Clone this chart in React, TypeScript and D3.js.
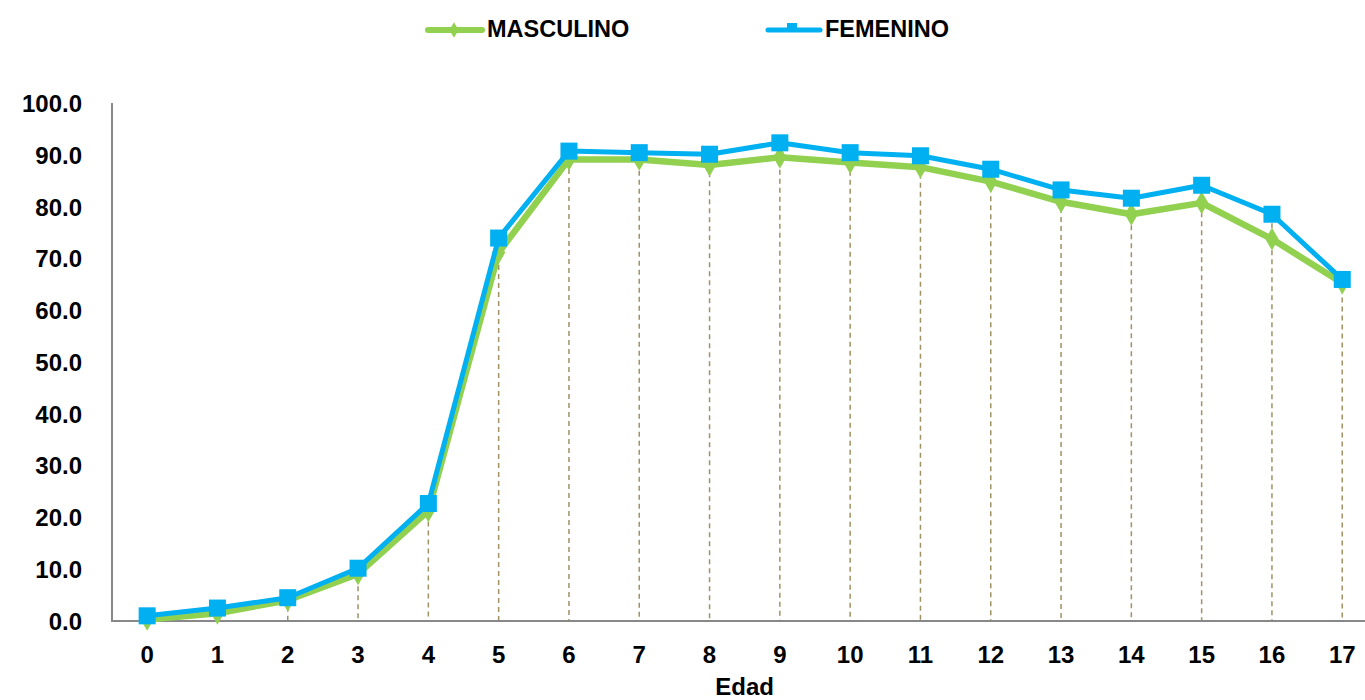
import React from "react";
import * as d3 from "d3";

const ages = ["0","1","2","3","4","5","6","7","8","9","10","11","12","13","14","15","16","17"];
const masculino = [0.3,1.5,4.0,9.1,21.3,71.2,89.2,89.2,88.1,89.6,88.6,87.7,84.9,81.0,78.6,80.8,73.8,65.3];
const femenino = [1.0,2.5,4.5,10.2,22.7,74.0,90.8,90.5,90.2,92.4,90.5,89.9,87.3,83.3,81.7,84.2,78.6,66.0];
const yTicks = [0,10,20,30,40,50,60,70,80,90,100];
const seriesNames = ["MASCULINO", "FEMENINO"];
const xTitle = "Edad";

const W = 1365, H = 700;
const GREEN = "#92D050", BLUE = "#00B0F0";
const FONT = "Liberation Sans, Arial, sans-serif";

export default function App() {
  const x = d3.scaleBand<string>().domain(ages).range([112, 112 + 18 * 70.3]);
  const cx = (a: string) => (x(a) as number) + x.bandwidth() / 2;
  const y = d3.scaleLinear().domain([0, 100]).range([621, 103.5]);
  const line = d3.line<number>().x((_, i) => cx(ages[i])).y((d) => y(d));
  const diamond = d3.symbol().type(d3.symbolDiamond).size(150)();

  return (
    <svg width={W} height={H} style={{ position: "absolute", left: 0, top: 0, background: "#fff" }} fontFamily={FONT}>
      {ages.map((a, i) => (
        <line key={"d" + a} x1={cx(a)} x2={cx(a)} y1={y(Math.max(masculino[i], femenino[i]))} y2={y(0)}
          stroke="#A09264" strokeWidth={1.5} strokeDasharray="5,4" />
      ))}
      <line x1={112} x2={112} y1={103} y2={622} stroke="#888" strokeWidth={2} />
      <line x1={111} x2={W} y1={621} y2={621} stroke="#888" strokeWidth={2} />
      {yTicks.map((t) => (
        <text key={"y" + t} x={82} y={y(t)} dy="0.36em" textAnchor="end" fontSize={24} fontWeight="bold" fill="#000">
          {t.toFixed(1)}
        </text>
      ))}
      {ages.map((a) => (
        <text key={"x" + a} x={cx(a)} y={663} textAnchor="middle" fontSize={24} fontWeight="bold" fill="#000">{a}</text>
      ))}
      <text x={(112 + 112 + 18 * 70.3) / 2} y={695} textAnchor="middle" fontSize={24} fontWeight="bold" fill="#000">{xTitle}</text>

      <path d={line(masculino) as string} fill="none" stroke={GREEN} strokeWidth={6.5} strokeLinejoin="round" />
      {masculino.map((v, i) => (
        <path key={"m" + i} d={diamond as string} transform={`translate(${cx(ages[i])},${y(v)})`} fill={GREEN} />
      ))}
      <path d={line(femenino) as string} fill="none" stroke={BLUE} strokeWidth={5} strokeLinejoin="round" />
      {femenino.map((v, i) => (
        <rect key={"f" + i} x={cx(ages[i]) - 8.5} y={y(v) - 8.5} width={17} height={17} fill={BLUE} />
      ))}

      <line x1={428} x2={482} y1={30} y2={30} stroke={GREEN} strokeWidth={6} strokeLinecap="round" />
      <path d={d3.symbol().type(d3.symbolDiamond).size(70)() as string} transform="translate(454,30)" fill={GREEN} />
      <text x={487} y={37} fontSize={23.5} fontWeight="bold" fill="#000">{seriesNames[0]}</text>
      <line x1={768} x2={820} y1={30} y2={30} stroke={BLUE} strokeWidth={5} strokeLinecap="round" />
      <rect x={787} y={23} width={10} height={9} fill={BLUE} />
      <text x={825} y={37} fontSize={23.5} fontWeight="bold" fill="#000">{seriesNames[1]}</text>
    </svg>
  );
}
